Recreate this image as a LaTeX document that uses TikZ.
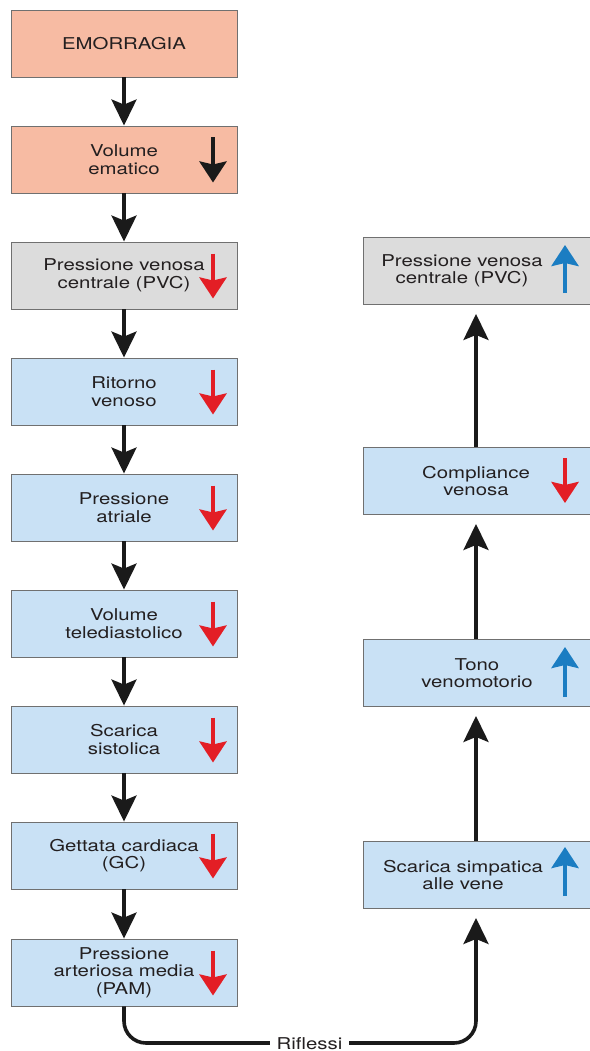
\documentclass[tikz,border=0pt]{standalone}
\usepackage{fontspec}
\setmainfont[FakeStretch=1.25]{TeX Gyre Heros}
\usetikzlibrary{arrows.meta}

\definecolor{salmon}{HTML}{F7BBA3}
\definecolor{greybox}{HTML}{DCDCDC}
\definecolor{bluebox}{HTML}{C9E1F5}
\definecolor{boxline}{HTML}{707070}
\definecolor{txt}{HTML}{231F20}
\definecolor{dnred}{HTML}{E31E25}
\definecolor{upblue}{HTML}{1B7DC2}
\definecolor{ink}{HTML}{1A1A1A}

\begin{document}
\begin{tikzpicture}[x=1pt,y=-1pt,
  font=\fontsize{16.3}{17.5}\selectfont,
  box/.style={draw=boxline, line width=0.9pt, minimum width=226pt,
    minimum height=67pt, inner sep=0pt},
  lbl/.style={align=center, text=txt, inner sep=0pt},
  conn/.style={draw=ink, line width=3.6pt,
    -{Stealth[length=26pt,width=25pt,inset=5pt]}},
  ind/.style={draw=#1, line width=4.2pt,
    -{Stealth[length=21pt,width=27pt,inset=3pt]}}
]
\useasboundingbox (0,0) rectangle (589,1051);

% left column: chain of consequences
\node[box, fill=salmon]  (emo)  at (124,43.5)  {};
\node[box, fill=salmon]  (vol)  at (124,159.5) {};
\node[box, fill=greybox] (pvc)  at (124,275.5) {};
\node[box, fill=bluebox] (rit)  at (124,391.5) {};
\node[box, fill=bluebox] (atr)  at (124,507.5) {};
\node[box, fill=bluebox] (ted)  at (124,623.5) {};
\node[box, fill=bluebox] (sis)  at (124,739.5) {};
\node[box, fill=bluebox] (gc)   at (124,855.5) {};
\node[box, fill=bluebox] (pam)  at (124,972.5) {};

\node[lbl] at (emo.center) {EMORRAGIA};
\node[lbl] at (vol.center) {Volume\\ematico};
\node[lbl] at (pvc.center) {Pressione venosa\\centrale (PVC)};
\node[lbl] at (rit.center) {Ritorno\\venoso};
\node[lbl] at (atr.center) {Pressione\\atriale};
\node[lbl] at (ted.center) {Volume\\telediastolico};
\node[lbl] at (sis.center) {Scarica\\sistolica};
\node[lbl] at (gc.center)  {Gettata cardiaca\\(GC)};
\node[lbl] at (pam.center) {Pressione\\arteriosa media\\(PAM)};

% right column: reflex compensation
\node[box, fill=bluebox, minimum width=230pt] (scar) at (478,875)   {};
\node[box, fill=bluebox, minimum width=230pt] (tono) at (478,673)   {};
\node[box, fill=bluebox, minimum width=230pt] (comp) at (478,481)   {};
\node[box, fill=greybox, minimum width=230pt] (pvcr) at (478,271)   {};

\node[lbl] at ([xshift=-15pt]scar.center) {Scarica simpatica\\alle vene};
\node[lbl] at ([xshift=-1pt]tono.center)  {Tono\\venomotorio};
\node[lbl] at ([xshift=-2pt]comp.center)  {Compliance\\venosa};
\node[lbl] at ([xshift=-16pt]pvcr.center) {Pressione venosa\\centrale (PVC)};

% change indicators inside the boxes
\draw[ind=ink]    ([xshift=89pt,yshift=22pt]vol.center) -- ([xshift=89pt,yshift=-23pt]vol.center);
\foreach \n in {pvc,rit,atr,ted,sis,gc,pam}
  \draw[ind=dnred] ([xshift=89pt,yshift=22pt]\n.center) -- ([xshift=89pt,yshift=-23pt]\n.center);
\draw[ind=upblue] ([xshift=87pt,yshift=-22pt]pvcr.center) -- ([xshift=87pt,yshift=26pt]pvcr.center);
\draw[ind=dnred]  ([xshift=87pt,yshift=23pt]comp.center) -- ([xshift=87pt,yshift=-22pt]comp.center);
\draw[ind=upblue] ([xshift=87pt,yshift=-24pt]tono.center) -- ([xshift=87pt,yshift=26pt]tono.center);
\draw[ind=upblue] ([xshift=87pt,yshift=-21pt]scar.center) -- ([xshift=87pt,yshift=28pt]scar.center);

% connectors, left column
\draw[conn] (emo) -- (vol);
\draw[conn] (vol) -- (pvc);
\draw[conn] (pvc) -- (rit);
\draw[conn] (rit) -- (atr);
\draw[conn] (atr) -- (ted);
\draw[conn] (ted) -- (sis);
\draw[conn] (sis) -- (gc);
\draw[conn] (gc)  -- (pam);

% connectors, right column
\draw[conn, shorten >=9pt] (scar.north -| 476,0) -- (tono.south -| 476,0);
\draw[conn, shorten >=9pt] (tono.north -| 476,0) -- (comp.south -| 476,0);
\draw[conn, shorten >=9pt] (comp.north -| 476,0) -- (pvcr.south -| 476,0);

% reflex loop along the bottom
\coordinate (loop) at (300,1043);
\draw[conn, rounded corners=22pt, shorten >=9pt]
  (pam.south) |- (loop) -| (scar.south -| 476,0);
\node[fill=white, inner xsep=7pt, inner ysep=0pt, text=txt] (rif) at (309.5,1043.5) {Riflessi};
\end{tikzpicture}
\end{document}
